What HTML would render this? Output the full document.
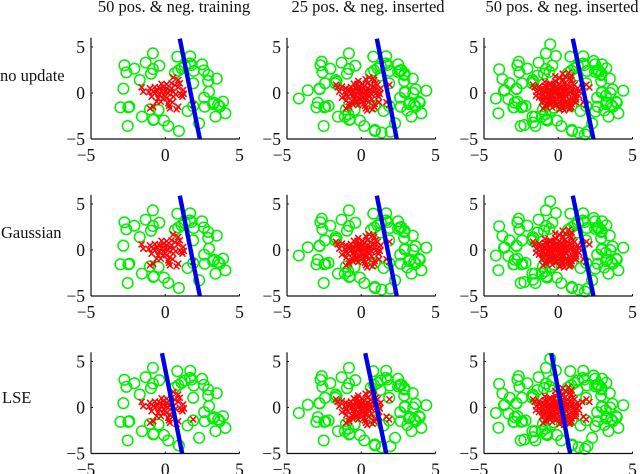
<!DOCTYPE html>
<html>
<head>
<meta charset="utf-8">
<style>
html,body{margin:0;padding:0;background:#fff;width:640px;height:474px;overflow:hidden}
svg{display:block;filter:blur(0.35px)}
text{font-family:"Liberation Serif",serif;fill:#111}
.tick{font-size:17.5px}
.head{font-size:16.5px}
</style>
</head>
<body>
<svg id="chart" width="640" height="474" viewBox="0 0 640 474" xmlns="http://www.w3.org/2000/svg">
<text class="head" x="174" y="12" text-anchor="middle">50 pos. &amp; neg. training</text>
<text class="head" x="368" y="12" text-anchor="middle">25 pos. &amp; neg. inserted</text>
<text class="head" x="562" y="12" text-anchor="middle">50 pos. &amp; neg. inserted</text>
<text class="head" x="0" y="81">no update</text>
<text class="head" x="1" y="238">Gaussian</text>
<text class="head" x="2" y="403">LSE</text>
</svg>
<script>
const xTicks = [-5, 0, 5];
const yTicks = [-5, 0, 5];
const greenBase = [[-.83,4.31],[.81,3.95],[1.68,3.99],[-2.75,3.01],[-2.62,2.25],[-2.08,2.64],[-1.32,3.3],[-.4,2.97],[-.83,2.61],[-.96,2.1],[1.66,3.22],[1.32,2.93],[2.48,3.12],[2.6,2.46],[2.89,1.96],[2.89,1.3],[3.47,1.56],[-1.72,1.41],[.65,2.17],[.87,2.43],[1.92,2.39],[1.88,1.05],[-2.82,.47],[2.95,.14],[2.62,-.51],[3.29,-1.05],[3.89,-.94],[3.67,-1.49],[3.22,-1.2],[4.05,-2.21],[3.38,-2.57],[-3.02,-1.56],[-2.42,-1.49],[-2.48,-1.56],[-1.57,-2.57],[-1.03,-1.78],[-.45,-1.85],[-.81,-2.93],[-.77,-2.86],[-.09,-3],[.2,-3.59],[-2.53,-3.59],[.92,-4.13],[1.5,-1.96],[1.88,-1.41],[2.66,-1.49],[2.28,-3.3],[3.56,-1.3],[1.77,3.04],[1.1,2.68]];
const greenExtra25 = [[-4.2,-.6],[-3.6,.3],[-2.66,3.4],[-2.44,1.05],[-2.8,.43],[-1.66,1.23],[-1.75,1.05],[1.3,1.9],[2.48,2.3],[2.7,2.5],[2.93,2.07],[4.38,.25],[3.65,.4],[3.5,0],[2.93,.04],[3.94,-1.05],[-2.93,-1.05],[-2.2,-1.41],[-1.1,-2.57],[-.87,-2.3],[.92,-4.02],[1.37,-4.31],[1.97,-4.2],[.9,-1.4],[3.1,-1.9]];
const greenExtra50 = [[-.54,5.29],[-.16,4.02],[-3.98,2.57],[-3.76,1.52],[-3.27,1.05],[-3.65,.25],[-4.03,-2.2],[-3.36,-.65],[-2.98,-1.56],[-2.75,-.94],[-2.28,-3.48],[-1.54,-3.59],[-1.7,-3.22],[-1.74,-2.57],[-.74,-3],[2.5,-2.03],[2.39,3.48],[2.95,3.12],[2.73,2.32],[3.24,2.68],[-1.4,1.9],[-.6,2.3],[3.2,-.3],[1.8,-4.5],[-.3,-1.6]];
const redBase = [[-1.59,.62],[-1.48,.14],[-1.03,.51],[-.81,.14],[-.92,-.4],[-.58,.33],[-.4,-.22],[-.13,.69],[-.02,.14],[.2,-.04],[.43,.51],[.54,-.4],[-.13,-.58],[-.58,-.94],[.2,-1.12],[.31,-1.67],[.87,-1.49],[.76,-1.78],[1.1,-.22],[1.21,.33],[.98,1.05],[.54,1.7],[.87,1.41],[.31,-.76],[-.81,-1.49],[-1.03,-1.67],[1.88,-1.3],[.09,.51],[-.25,.14],[-.36,.51],[-.69,-.04],[.54,.14],[.98,-.04],[1.16,-.4],[.87,.62],[-.09,-.22],[.09,-.58],[-.47,-.58],[.31,.33],[.43,1.05],[-1.1,.1],[-.7,.65],[-.25,1],[.1,.95],[.65,.85],[.7,-.15],[.5,-1],[1.25,-.1],[.25,-1.4],[-.3,-.95]];
const redExtra25 = [[-1.7,.9],[-1.3,.7],[-1,-.2],[-.6,-.4],[-.3,.4],[0,.3],[.3,.1],[.6,.4],[.9,.3],[1.3,.5],[1.1,.9],[.8,1.6],[.3,1.5],[-.2,1.3],[-.5,1],[.1,-.3],[.4,-.6],[.7,-.7],[-.2,-.9],[.1,-.9],[.9,-1.2],[1.9,.9],[1.7,-1],[-.8,-1.2],[.4,-1.9],[-.4,-.3],[-.1,.6],[.2,.8],[.5,-.2],[-.8,.4],[-.2,-1.3],[-1,-.8],[-1.3,-.5],[-.6,-1.2],[1.2,-1]];
const redExtra50 = [[-1.2,.4],[-.9,.8],[-.6,1],[-.1,.1],[.2,.6],[.5,.7],[.8,.1],[1.1,.1],[1.4,.2],[1.2,-.7],[.9,-.5],[.6,-1.3],[.2,-.2],[-.3,-.5],[-.6,-.7],[-.9,-.7],[-.2,1.8],[.3,2.1],[.7,2.2],[.9,1.9],[.1,1.6],[-.4,.7],[1.6,.6],[2.1,.6],[.8,-1.6],[-.1,-1.3],[.3,-1.1],[-.5,-1.1],[-1.3,-.1],[-.3,.2],[-1.5,-.3],[-1.1,-1],[-.9,-1.4],[-.4,-1.6],[.1,-1.8],[.6,-.9],[1,-.9],[1.4,-.3],[-.7,-.2],[-.9,1.2]];
const lineTopX = [[.98,1.05,.98],[.98,1.05,.98],[-.22,.27,-.47]];
const lineBottomX = [[2.33,2.39,2.37],[2.33,2.39,2.37],[1.14,1.68,.8]];

const NS = 'http://www.w3.org/2000/svg';
const svg = document.getElementById('chart');
const colLeft = [91, 287, 484];
const rowBottom = [139, 296, 453.5];
const xUnit = 14.85, yUnit = 9.2;

function mk(tag, attrs, parent) {
  const e = document.createElementNS(NS, tag);
  for (const k in attrs) e.setAttribute(k, attrs[k]);
  parent.appendChild(e);
  return e;
}

for (let r = 0; r < 3; r++) {
  for (let c = 0; c < 3; c++) {
    const xs = v => colLeft[c] + (v + 5) * xUnit;
    const ys = v => rowBottom[r] - (v + 5) * yUnit;
    const g = mk('g', {}, svg);
    
    

    let reds = redBase, greens = greenBase;
    if (c >= 1) { reds = reds.concat(redExtra25); greens = greens.concat(greenExtra25); }
    if (c >= 2) { reds = reds.concat(redExtra50); greens = greens.concat(greenExtra50); }

    greens.forEach(p => {
      const m = mk('circle', {cx: xs(p[0]), cy: ys(p[1]), r: 5.3, fill: 'none', stroke: '#00ee00', 'stroke-width': 1.5}, g);
      
      
    });
    reds.forEach(p => {
      const x = xs(p[0]), y = ys(p[1]), s = 3;
      const m = mk('path', {d: `M${x - s} ${y - s}L${x + s} ${y + s}M${x - s} ${y + s}L${x + s} ${y - s}`, fill: 'none', stroke: '#f80808', 'stroke-width': 1.5}, g);
      
      
    });
    const bl = mk('line', {x1: xs(lineTopX[r][c]), y1: ys(5.9), x2: xs(lineBottomX[r][c]), y2: ys(-5), stroke: '#0000e8', 'stroke-width': 4.4}, g);
    
    

    const xa = mk('line', {x1: xs(-5), y1: ys(-5), x2: xs(5), y2: ys(-5), stroke: '#111', 'stroke-width': 1.2}, g);
    
    
    const ya = mk('line', {x1: xs(-5), y1: ys(-5), x2: xs(-5), y2: ys(6), stroke: '#111', 'stroke-width': 1.2}, g);
    
    

    xTicks.forEach(v => {
      const t = mk('line', {x1: xs(v), y1: ys(-5), x2: xs(v), y2: ys(-5) - 2, stroke: '#111', 'stroke-width': 1}, g);
      
      
      const l = mk('text', {class: 'tick', x: xs(v) - (v < 0 ? 5 : 0), y: ys(-5) + 22, 'text-anchor': 'middle'}, g);
      l.textContent = String(v).replace('-', '\u2212');
      
      
    });
    yTicks.forEach(v => {
      const t = mk('line', {x1: xs(-5), y1: ys(v), x2: xs(-5) + 2, y2: ys(v), stroke: '#111', 'stroke-width': 1}, g);
      
      
      const l = mk('text', {class: 'tick', x: xs(-5) - 6, y: ys(v) + 6, 'text-anchor': 'end'}, g);
      l.textContent = String(v).replace('-', '\u2212');
      
      
    });
  }
}
</script>
</body>
</html>
